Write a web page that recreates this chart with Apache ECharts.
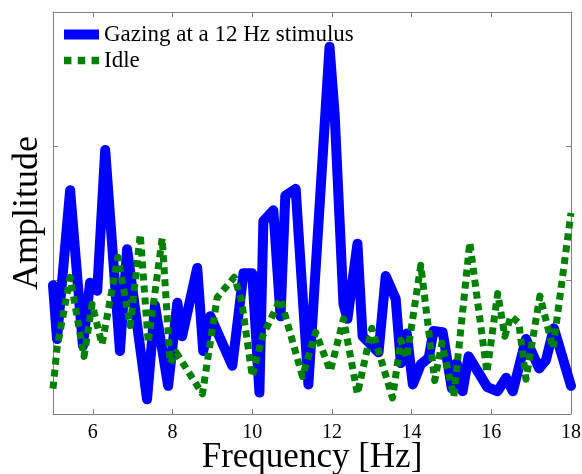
<!DOCTYPE html>
<html>
<head>
<meta charset="utf-8">
<script src="https://cdn.jsdelivr.net/npm/echarts@6/dist/echarts.min.js"></script>
<style>html,body{margin:0;padding:0;background:#fff;}#c{width:582px;height:474px;}</style>
</head>
<body>
<div id="c"></div>
<script>
const xTicks = [6, 8, 10, 12, 14, 16, 18];
const yTicks = [0, 1, 2, 3];
const seriesNames = ['Gazing at a 12 Hz stimulus', 'Idle'];

const blueFreq = [5.00,5.10,5.43,5.75,5.93,6.11,6.31,6.68,6.86,7.36,7.56,7.89,8.12,8.24,8.62,8.77,8.95,9.50,9.78,10.00,10.18,10.28,10.53,10.71,10.83,11.09,11.41,11.94,12.07,12.29,12.39,12.64,12.77,13.17,13.35,13.60,13.73,13.88,14.03,14.23,14.43,14.55,14.78,15.01,15.13,15.28,15.43,15.90,16.16,16.37,16.54,16.87,17.20,17.37,17.57,18.00];
const blueAmp = [0.96,0.56,1.67,0.51,0.98,0.92,1.97,0.47,1.23,0.11,0.81,0.21,0.83,0.58,1.09,0.47,0.73,0.36,1.05,1.05,0.16,1.44,1.52,0.73,1.63,1.68,0.22,2.74,2.23,0.82,0.71,1.27,0.58,0.46,1.03,0.86,0.38,0.60,0.22,0.37,0.42,0.62,0.61,0.19,0.38,0.17,0.43,0.20,0.17,0.27,0.17,0.56,0.34,0.40,0.64,0.21];

const idleFreq = [5.00,5.10,5.43,5.78,5.98,6.23,6.63,6.94,7.19,7.39,7.74,7.94,8.09,8.75,9.12,9.55,9.73,10.00,10.26,10.71,11.26,11.59,11.96,12.29,12.64,13.00,13.52,13.73,13.88,14.23,14.58,14.76,15.06,15.46,15.89,16.16,16.34,16.49,16.69,16.87,17.22,17.55,18.00];
const idleAmp = [0.19,0.49,1.02,0.43,0.82,0.52,1.17,0.66,1.34,0.53,1.31,0.38,0.46,0.15,0.87,1.02,0.85,0.28,0.58,0.86,0.28,0.61,0.32,0.71,0.15,0.64,0.12,0.55,0.42,1.11,0.25,0.53,0.13,1.28,0.31,0.90,0.58,0.73,0.68,0.26,0.88,0.49,1.50];

const pair = (xs, ys) => xs.map((x, i) => [x, ys[i]]);
const FONT = '"Liberation Serif", "Times New Roman", serif';
const AX = '#808080';

function xAx(pos, showLabel, name) {
  return {
    type: 'value', position: pos, min: 5, max: 18,
    name: name || '', nameLocation: 'middle', nameGap: 26, nameMoveOverlap: false,
    nameTextStyle: { fontFamily: FONT, fontSize: 35, color: '#000' },
    axisLine: { show: true, onZero: false, lineStyle: { color: AX, width: 1 } },
    axisTick: { show: true, inside: true, length: 5, customValues: xTicks, lineStyle: { color: AX } },
    axisLabel: { show: showLabel, customValues: xTicks, margin: 9, fontFamily: FONT, fontSize: 20, color: '#000' },
    splitLine: { show: false }
  };
}
function yAx(pos, name) {
  return {
    type: 'value', position: pos, min: 0, max: 3, interval: 1,
    name: name || '', nameLocation: 'middle', nameGap: 7, nameMoveOverlap: false,
    nameTextStyle: { fontFamily: FONT, fontSize: 36, color: '#000' },
    axisLine: { show: true, onZero: false, lineStyle: { color: AX, width: 1 } },
    axisTick: { show: true, inside: true, length: 5, lineStyle: { color: AX } },
    axisLabel: { show: false },
    splitLine: { show: false }
  };
}

const chart = echarts.init(document.getElementById('c'), null, { renderer: 'canvas' });
chart.setOption({
  backgroundColor: '#fff',
  animation: false,
  grid: { left: 53, right: 11, top: 12, bottom: 60, containLabel: false, outerBoundsMode: 'none' },
  xAxis: [xAx('bottom', true, 'Frequency [Hz]'), xAx('top', false)],
  yAxis: [yAx('left', 'Amplitude'), yAx('right')],
  legend: {
    orient: 'vertical', left: 64, top: 23, padding: 0,
    itemWidth: 35, itemHeight: 10, itemGap: 3,
    textStyle: { fontFamily: FONT, fontSize: 23, color: '#000' },
    data: [
      { name: seriesNames[0], icon: 'rect' },
      { name: seriesNames[1], icon: 'path://M0,0h7v7h-7z M13,0h7v7h-7z M26,0h7v7h-7z', itemStyle: { color: '#008000' } }
    ]
  },
  series: [
    {
      name: seriesNames[0], type: 'line', xAxisIndex: 0, yAxisIndex: 0,
      data: pair(blueFreq, blueAmp), showSymbol: false, symbol: 'none',
      lineStyle: { color: '#0000ff', width: 10, join: 'round', cap: 'round' },
      itemStyle: { color: '#0000ff' }
    },
    {
      name: seriesNames[1], type: 'line', xAxisIndex: 0, yAxisIndex: 0,
      data: pair(idleFreq, idleAmp), showSymbol: false, symbol: 'none',
      lineStyle: { color: '#008000', width: 7, type: [7, 5], cap: 'butt', join: 'round' },
      itemStyle: { color: '#008000' }
    }
  ]
});
</script>
</body>
</html>
